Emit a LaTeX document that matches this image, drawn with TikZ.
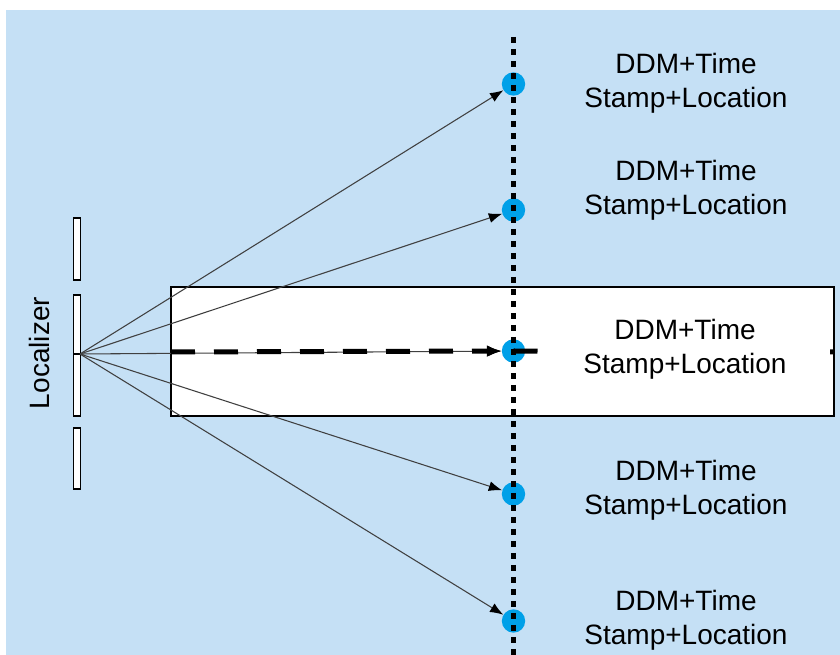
\documentclass[tikz,border=0pt]{standalone}
\usepackage{fontspec}
\setmainfont{Liberation Sans}
\usetikzlibrary{arrows.meta}
\usetikzlibrary{calc}
\definecolor{hatter}{RGB}{197,224,245}
\definecolor{pontkek}{RGB}{0,160,232}

\begin{document}
\begin{tikzpicture}[x=0.75pt,y=-0.75pt,>={Latex[length=10pt,width=7.5pt,color=black]},
felirat/.style={align=center,inner sep=0pt,font=\fontsize{21}{25.5}\selectfont},
pont/.style={circle,fill=pontkek,minimum size=17.5pt,inner sep=0pt},
elem/.style={draw=black,line width=1pt,fill=white},
sugar/.style={->,draw=black!75,line width=0.8pt}
]

\useasboundingbox (0,0) rectangle (840,655);
\fill[hatter] (6,10) rectangle (840,655);

% antenna elements
\draw[elem] (73.5,218) rectangle (80.5,280);
\draw[elem] (73.5,295) rectangle (80.5,416);
\draw[elem] (73.5,428) rectangle (80.5,489);
\node[felirat,rotate=90](lok) at (39,353){Localizer};
\coordinate (forras) at (80,354);
\draw[line width=0.8pt] (73.5,354)--(forras);

% course sector
\draw[line width=1.1pt,fill=white] (171,287) rectangle (834,416);
\coordinate (szektor-bal) at (171,352);
\coordinate (szektor-jobb) at (833.5,352);

\node[pont](p1) at (513.5,84){};
\node[pont](p2) at (513.5,210){};
\node[pont](p3) at (513.5,351){};
\node[pont](p4) at (513.5,494){};
\node[pont](p5) at (513.5,621){};

\begin{scope}[sugar]
\draw (forras)--(p1);
\draw (forras)--(p2);
\draw (forras)--(p3);
\draw (forras)--(p4);
\draw (forras)--(p5);
\end{scope}

\begin{scope}[line width=3.75pt,dash pattern=on 18pt off 14.25pt]
\draw (p3.center)--(szektor-jobb);
\draw[-{Latex[length=11pt,width=9pt]}] (szektor-bal)--(p3);
\end{scope}

% measurement line
\draw[line width=4pt,dash pattern=on 4.5pt off 4.5pt] (513.5,37)--(513.5,655);

\node[felirat](f1) at (686,83.5){DDM+Time\\Stamp+Location};
\node[felirat](f2) at (686,190.5){DDM+Time\\Stamp+Location};
\node[felirat,fill=white,minimum width=218pt,minimum height=60pt](f3) at (685,349.5){DDM+Time\\Stamp+Location};
\node[felirat](f4) at (686,490.5){DDM+Time\\Stamp+Location};
\node[felirat](f5) at (686,620.5){DDM+Time\\Stamp+Location};

\end{tikzpicture}
\end{document}
